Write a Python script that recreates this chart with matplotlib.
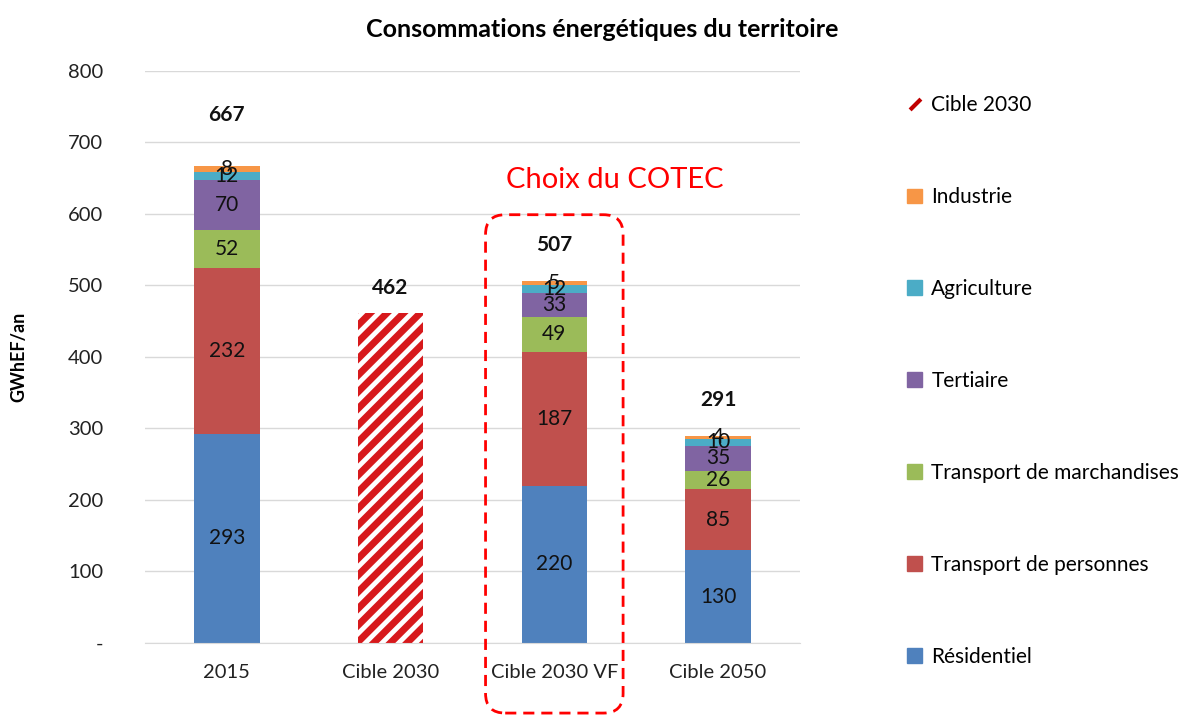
import matplotlib.pyplot as plt
from matplotlib.patches import FancyBboxPatch
from matplotlib.lines import Line2D
import matplotlib.patches as mpatches

plt.rcParams['font.family'] = ['Lato', 'DejaVu Sans']
plt.rcParams['hatch.linewidth'] = 5

categories = ['2015', 'Cible 2030', 'Cible 2030 VF', 'Cible 2050']
sectors = ['Résidentiel', 'Transport de personnes', 'Transport de marchandises',
           'Tertiaire', 'Agriculture', 'Industrie']
residentiel = [293, 0, 220, 130]
transport_pers = [232, 0, 187, 85]
transport_march = [52, 0, 49, 26]
tertiaire = [70, 0, 33, 35]
agriculture = [12, 0, 12, 10]
industrie = [8, 0, 5, 4]
cible_2030 = [0, 462, 0, 0]
totals = [667, 462, 507, 291]

colors = ['#4F81BD', '#C0504D', '#9BBB59', '#8064A2', '#4BACC6', '#F79646']
series = [residentiel, transport_pers, transport_march, tertiaire, agriculture, industrie]
total_offset = [71, 34, 50, 50]

fig = plt.figure(figsize=(12.04, 7.15), dpi=100)
ax = fig.add_axes([0.1204, 0.1007, 0.544, 0.80])

x = range(len(categories))
width = 0.4
bottom = [0] * len(categories)
for vals, col, name in zip(series, colors, sectors):
    ax.bar(x, vals, width, bottom=bottom, color=col, label=name, zorder=2)
    for i, v in enumerate(vals):
        if v > 0:
            ax.text(i, bottom[i] + v / 2, str(v), ha='center', va='center',
                    fontsize=15, color='#111111', zorder=3)
    bottom = [b + v for b, v in zip(bottom, vals)]

ax.bar(x, cible_2030, width, color='white', edgecolor='#D7191C', hatch='//',
       linewidth=0, zorder=2)

for i, t in enumerate(totals):
    top = max(bottom[i], cible_2030[i])
    ax.text(i, top + total_offset[i], str(t), ha='center', va='center',
            fontsize=15, fontweight='bold', color='#111111')

ax.set_xlim(-0.5, 3.5)
ax.set_ylim(0, 800)
ax.set_yticks(range(0, 801, 100))
ax.set_yticklabels(['-'] + [str(v) for v in range(100, 801, 100)])
ax.set_xticks(list(x))
ax.set_xticklabels(categories)
ax.tick_params(axis='both', length=0, labelsize=14.5, colors='#222222')
ax.tick_params(axis='y', pad=30)
ax.tick_params(axis='x', pad=15)
ax.grid(axis='y', color='#D9D9D9', linewidth=1, zorder=0)
for s in ['top', 'right', 'left']:
    ax.spines[s].set_visible(False)
ax.spines['bottom'].set_color('#D9D9D9')
ax.set_ylabel('GWhEF/an', fontsize=13, fontweight='bold')
ax.yaxis.set_label_coords(-0.18, 0.5)

fig.suptitle('Consommations énergétiques du territoire', x=0.5, y=0.975,
             fontsize=18, fontweight='bold')

# red dashed frame around the chosen scenario
sx = 163.75 / 0.715
box = FancyBboxPatch((2 - 0.42, -98), 0.84, 697,
                     boxstyle='round,pad=0,rounding_size=0.12',
                     mutation_aspect=sx, fill=False, edgecolor='#FF0000',
                     linestyle=(0, (4, 2.5)), linewidth=2, clip_on=False, zorder=4)
ax.add_patch(box)
ax.text(2.37, 648, 'Choix du COTEC', ha='center', va='center', fontsize=21,
        color='#FF0000')

handles = [Line2D([], [], color='#C00000', marker=(2, 0, -45), markersize=11,
                  markeredgewidth=3, linestyle='none')]
labels = ['Cible 2030']
for col, name in reversed(list(zip(colors, sectors))):
    handles.append(mpatches.Patch(color=col))
    labels.append(name)
fig.legend(handles, labels, loc='upper left', bbox_to_anchor=(0.738, 0.893),
           frameon=False, fontsize=15, labelspacing=3.45, handlelength=0.7,
           handleheight=0.7, handletextpad=0.45)

fig.savefig('out.png', dpi=100)
